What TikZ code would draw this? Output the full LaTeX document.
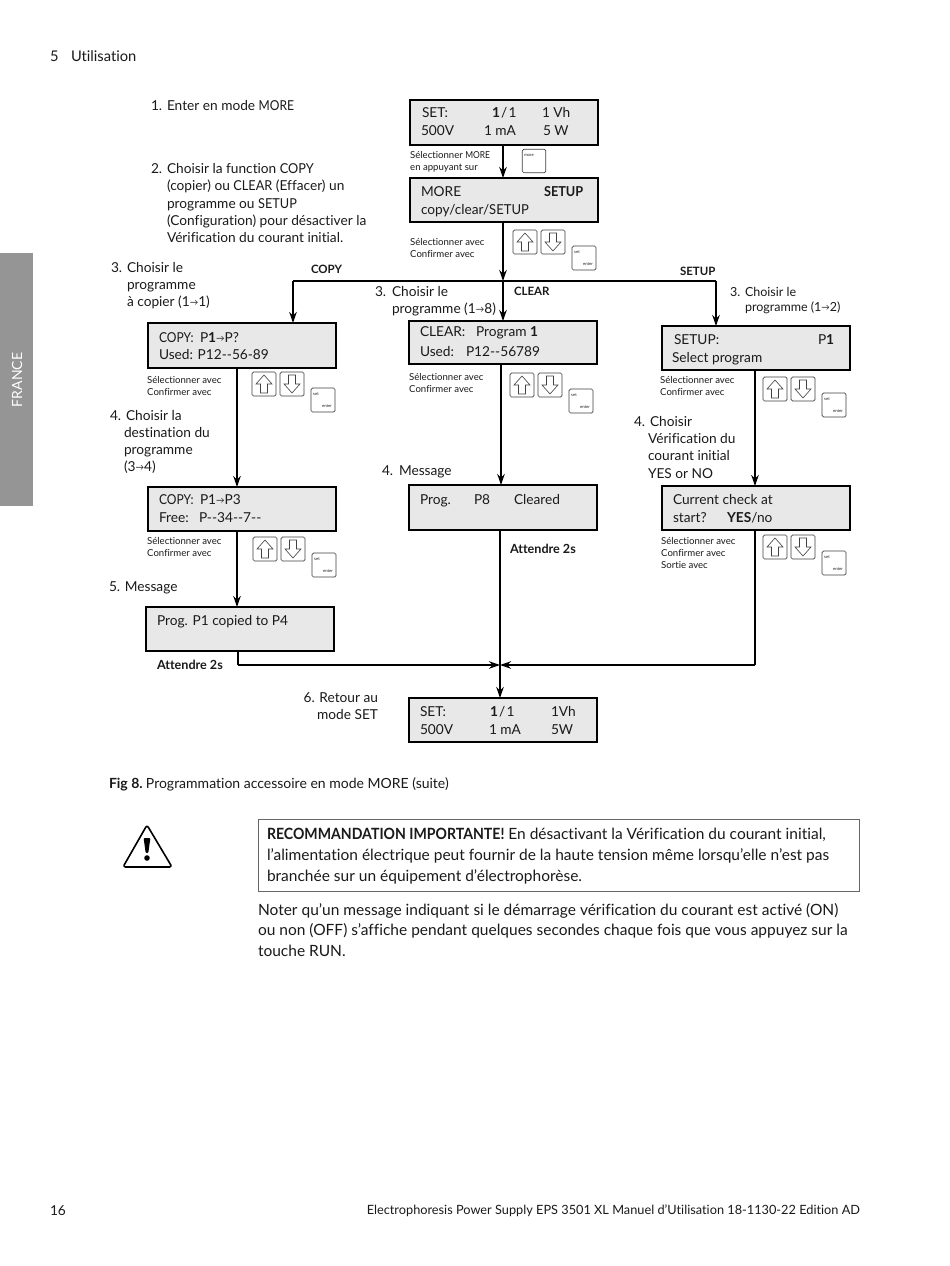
\documentclass[tikz,border=0pt]{standalone}
\usepackage{fontspec}
\setmainfont{Lato}[Ligatures={NoCommon}]
\usetikzlibrary{arrows.meta}
\definecolor{lcd}{HTML}{E8E8E8}
\definecolor{tab}{HTML}{959595}
\definecolor{ink}{HTML}{1A1A1A}
\newcommand{\at}[4][]{\node[tx,#1] (#2) at (#3) {#4};}
\newcommand{\nar}[2][.88]{{\addfontfeature{FakeStretch=#1}#2}}
\newcommand{\sar}{{\fontsize{8.5}{8.5}\selectfont\raisebox{.8pt}{→}}}
\newcommand{\hintsTwo}[3]{\node[hint] (#1a) at (#2,#3) {Sélectionner avec};\node[hint] (#1b) at (#2,#3+12.5) {Confirmer avec};}
\newcommand{\keyset}[3]{%
 \node[keyb,minimum width=24,minimum height=24] (#1u) at (#2+12,#3+12) {};
 \draw[keyg] (#2+12,#3+3) -- (#2+20,#3+12) -- (#2+15.5,#3+12) -- (#2+15.5,#3+21) -- (#2+8.5,#3+21) -- (#2+8.5,#3+12) -- (#2+4,#3+12) -- cycle;
 \node[keyb,minimum width=24,minimum height=24] (#1d) at (#2+40,#3+12) {};
 \draw[keyg] (#2+40,#3+21) -- (#2+48,#3+12) -- (#2+43.5,#3+12) -- (#2+43.5,#3+3) -- (#2+36.5,#3+3) -- (#2+36.5,#3+12) -- (#2+32,#3+12) -- cycle;
 \node[keyb,minimum width=24,minimum height=24] (#1s) at (#2+71,#3+28) {};
 \node[tiny] (#1st) at (#2+64,#3+22) {set};
 \node[tiny] (#1en) at (#2+75,#3+34) {enter};}
\tikzset{x=1pt,y=-1pt,
 tx/.style={anchor=base west,inner sep=0pt,outer sep=0pt,font=\fontsize{13.7}{14}\selectfont,text=ink},
 txs/.style={tx,font=\fontsize{12.5}{14}\selectfont},
 txn/.style={tx,font=\fontsize{15.5}{15.5}\selectfont},
 btx/.style={tx,font=\fontsize{11.5}{12}\selectfont\bfseries},
 wtx/.style={tx,font=\fontsize{12.6}{12}\selectfont\bfseries},
 hint/.style={anchor=base west,inner sep=0pt,font=\fontsize{9.6}{10}\selectfont,text=ink},
 tiny/.style={inner sep=0pt,font=\fontsize{4.2}{5}\selectfont,text=ink},
 lcdbox/.style={draw=black,fill=lcd,line width=1.6pt,inner sep=0pt,outer sep=0pt,minimum width=188,minimum height=44,anchor=north west},
 keyb/.style={draw=black!75,rounded corners=1.5pt,line width=.7pt,inner sep=0pt,outer sep=0pt},
 keyg/.style={draw=black!75,line width=.6pt},
 conn/.style={draw=black,line width=1.5pt},
 arr/.style={conn,-{Stealth[length=11pt,width=7.5pt]}}}
\begin{document}
\begin{tikzpicture}
\useasboundingbox (0,0) rectangle (950,1266);
\fill[white] (0,0) rectangle (950,1266);
% header / side tab
\node[tx,font=\fontsize{14.7}{15}\selectfont] (hd) at (50,61) {5};
\node[tx,font=\fontsize{14.7}{15}\selectfont] (hdb) at (71,61) {Utilisation};
\node[fill=tab,minimum width=33,minimum height=253,inner sep=0pt,outer sep=0pt,anchor=north west] (tabb) at (0,253) {};
\node[rotate=90,text=white,font=\fontsize{14}{14}\selectfont] (fr) at (17,380) {FRANCE};
% boxes
\node[lcdbox,minimum height=45] (set1) at (410,100) {};
\node[lcdbox] (more) at (410,178) {};
\node[lcdbox,minimum height=45] (copy) at (148,323) {};
\node[lcdbox,minimum height=43] (clear) at (409,321) {};
\node[lcdbox] (setup) at (662,326) {};
\node[lcdbox] (copyb) at (148,487) {};
\node[lcdbox,minimum height=45] (msg) at (409,485) {};
\node[lcdbox] (check) at (662,486) {};
\node[lcdbox] (prog) at (146,607) {};
\node[lcdbox] (set2) at (409,698) {};
% box text
\at{a1}{422,117}{SET:}\at{a2}{492,117}{\textbf{1}\hspace{1.2pt}/\hspace{1.2pt}1}\at{a3}{542,117}{1 Vh}
\at{a4}{421,135}{500V}\at{a5}{484,135}{1 mA}\at{a6}{543,135}{5 W}
\at{b1}{421,196}{MORE}\at[font=\fontsize{13.7}{14}\selectfont\bfseries]{b2}{544,196}{\nar[.93]{SETUP}}\at{b3}{421,214}{copy/clear/\nar[.95]{SETUP}}
\at{c1}{159,342}{\nar[.88]{COPY:}}\at{c1b}{200,342}{P\textbf{1}\sar P?}\at{c2}{159,359}{Used: P12-{}-56-89}
\at{d1}{420,336}{CLEAR:}\at{d1b}{476,336}{Program \textbf{1}}\at{d2}{420,356}{Used:}\at{d2b}{466,356}{P12-{}-56789}
\at{e1}{674,344}{SETUP:}\at{e2}{818,344}{P\textbf{1}}\at{e3}{672,362}{Select program}
\at{f1}{159,504}{\nar[.88]{COPY:}}\at{f1b}{200,504}{P1\sar P3}\at{f2}{159,522}{Free:}\at{f2b}{199,522}{P-{}-34-{}-7-{}-}
\at{g1}{420,504}{Prog.}\at{g2}{474,504}{P8}\at{g3}{514,504}{Cleared}
\at{h1}{673,504}{Current check at}\at{h2}{673,522}{start?}\at{h2b}{727,522}{\textbf{YES}/no}
\at{i1}{157,625}{Prog. P1 copied to P4}
\at{j1}{420,716}{SET:}\at{j2}{490,716}{\textbf{1}\hspace{1.2pt}/\hspace{1.2pt}1}\at{j3}{551,716}{1Vh}
\at{j4}{420,734}{500V}\at{j5}{489,734}{1 mA}\at{j6}{551,734}{5W}
% step labels
\at{s1}{151,110}{1.}\at{s1b}{167,110}{Enter en mode \nar{MORE}}
\at{s2}{151,173}{2.}\at{s2a}{167,173}{Choisir la function \nar[.93]{COPY}}
\at{s2b}{167,190}{(copier) ou \nar[.93]{CLEAR} (Effacer) un}
\at{s2c}{167,208}{programme ou \nar[.93]{SETUP}}
\at{s2d}{167,225}{(Configuration) pour désactiver la}
\at{s2e}{167,242}{Vérification du courant initial.}
\at{s3}{111,272}{3.}\at{s3a}{127,272}{Choisir le}
\at{s3b}{127,289}{programme}
\at{s3c}{127,306}{à copier (1\sar 1)}
\at{s4}{375,296}{3.}\at{s4a}{392,296}{Choisir le}
\at{s4b}{392,313}{programme (1\sar 8)}
\node[txs] (s5) at (730,296) {3.};\node[txs] (s5a) at (745,296) {Choisir le};
\node[txs] (s5b) at (745,311) {programme (1\sar 2)};
\at{s6}{110,420}{4.}\at{s6a}{126,420}{Choisir la}
\at{s6b}{124,437}{destination du}
\at{s6c}{124,454}{programme}
\at{s6d}{124,471}{(3\sar 4)}
\at{s7}{382,475}{4.}\at{s7a}{399,475}{Message}
\at{s8}{634,426}{4.}\at{s8a}{650,426}{Choisir}
\at{s8b}{648,443}{Vérification du}
\at{s8c}{648,460}{courant initial}
\at{s8d}{648,478}{YES or NO}
\at{s9}{109,591}{5. Message}
\at[anchor=base east]{s10}{378,702}{6. Retour au}
\at[anchor=base east]{s10b}{378,719}{mode SET}
% branch and wait labels
\node[btx] (lc) at (311,273) {COPY};
\node[btx] (lk) at (514,295) {CLEAR};
\node[btx] (ls) at (680,275) {SETUP};
\node[wtx] (w1) at (510,553) {Attendre 2s};
\node[wtx] (w2) at (157,669) {Attendre 2s};
% hints and keys
\node[hint] (h1a) at (410,158) {Sélectionner \nar{MORE}};
\node[hint] (h1b) at (410,170) {en appuyant sur};
\node[keyb,minimum width=23.5,minimum height=23.5] (kmore) at (534,161) {};
\node[tiny] (kmt) at (529,155.5) {more};
\hintsTwo{h2}{410}{245}\keyset{k2}{513}{230}
\hintsTwo{h3}{147}{383}\keyset{k3}{252}{372}
\hintsTwo{h4}{409}{380}\keyset{k4}{510}{373}
\hintsTwo{h5}{660}{383}\keyset{k5}{763}{377}
\hintsTwo{h6}{147}{544}\keyset{k6}{253}{537}
\hintsTwo{h7}{661}{544}\node[hint] (h7c) at (661,568) {Sortie avec};\keyset{k7}{763}{535}
% connectors
\coordinate (jt) at (503,281);
\coordinate (jl) at (293,281);
\coordinate (jr) at (716,281);
\coordinate (xc) at (237,0);
\coordinate (xm) at (501,0);
\coordinate (xs) at (755,0);
\coordinate (mrg) at (500,665);
\coordinate (pl) at (238,665);
\coordinate (cr) at (755,665);
\draw[arr] (set1.south -| jt) -- (more.north -| jt);
\draw[arr] (more.south -| jt) -- (jt);
\draw[conn] (jl) -- (jr);
\draw[arr] (jl) -- (copy.north -| jl);
\draw[arr] (jr) -- (setup.north -| jr);
\draw[arr] (jt) -- (clear.north -| jt);
\draw[arr] (copy.south -| xc) -- (copyb.north -| xc);
\draw[arr] (clear.south -| xm) -- (msg.north -| xm);
\draw[arr] (setup.south -| xs) -- (check.north -| xs);
\draw[arr] (copyb.south -| xc) -- (prog.north -| xc);
\draw[conn] (prog.south -| pl) -- (pl);
\draw[arr] (pl) -- (mrg);
\draw[conn] (check.south -| xs) -- (cr);
\draw[arr] (cr) -- (mrg);
\draw[arr] (msg.south -| mrg) -- (set2.north -| mrg);
% caption
\node[tx,font=\fontsize{14}{14}\selectfont] (cap) at (109,788) {\textbf{Fig 8.}\hspace{-1.5pt} Programmation accessoire en mode MORE (suite)};
% warning
\draw[black,line width=1.6pt,line join=round,rounded corners=2.5pt] (147,825) -- (172,867) -- (123,867) -- cycle;
\fill[black,rounded corners=1pt] (143.6,838) -- (150.4,838) -- (148.3,853) -- (145.7,853) -- cycle;
\fill[black] (147,858) circle (2.8);
\node[draw=black!60,line width=.7pt,minimum width=601,minimum height=72,inner sep=0pt,outer sep=0pt,anchor=north west] (note) at (258,819) {};
\node[txn] (n1) at (267,839) {\textbf{\nar[.91]{RECOMMANDATION IMPORTANTE!}} En désactivant la Vérification du courant initial,};
\node[txn] (n2) at (267,860) {l’alimentation électrique peut fournir de la haute tension même lorsqu’elle n’est pas};
\node[txn] (n3) at (267,881) {branchée sur un équipement d’électrophorèse.};
\node[txn] (p1) at (258,915) {Noter qu’un message indiquant si le démarrage vérification du courant est activé (ON)};
\node[txn] (p2) at (258,935) {ou non (OFF) s’affiche pendant quelques secondes chaque fois que vous appuyez sur la};
\node[txn] (p3) at (258,956) {touche RUN.};
% footer
\at{pg}{50,1215}{16}
\node[tx,anchor=base east,font=\fontsize{12.75}{13}\selectfont] (ft) at (860,1214) {Electrophoresis Power Supply EPS 3501 XL Manuel d’Utilisation 18-1130-22 Edition AD};
\end{tikzpicture}
\end{document}
